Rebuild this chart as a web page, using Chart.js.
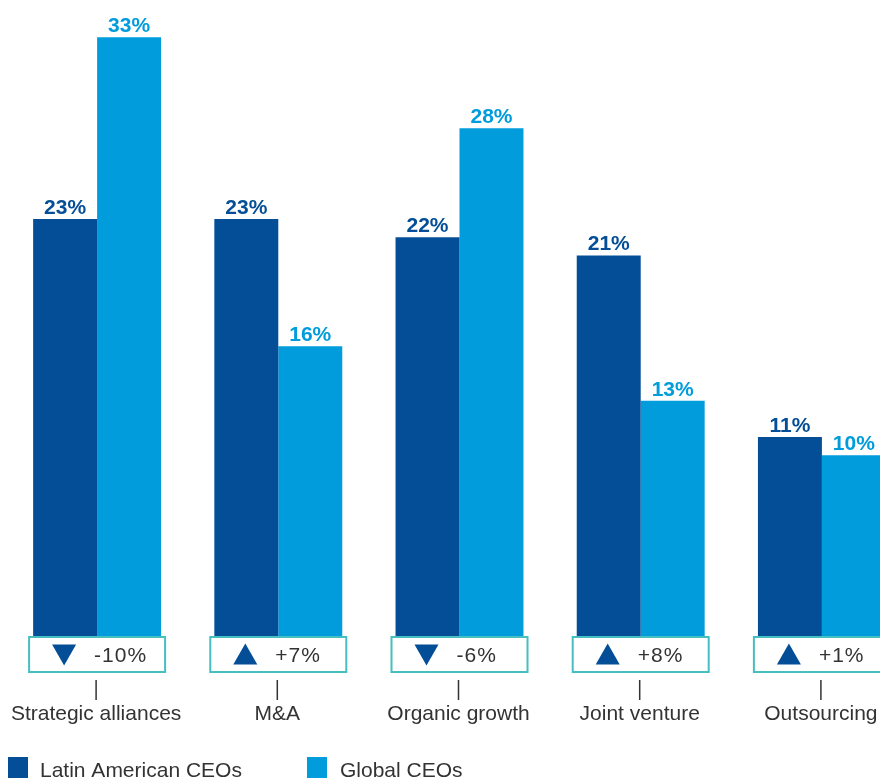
<!DOCTYPE html>
<html>
<head>
<meta charset="utf-8">
<script src="https://cdn.jsdelivr.net/npm/chart.js@4"></script>
<style>
html,body{margin:0;padding:0;background:#fff;overflow:hidden;width:880px;height:778px;}
#wrap{width:920px;height:778px;}
</style>
</head>
<body>
<div id="wrap"><canvas id="c" width="920" height="778"></canvas></div>
<script>
const categories = ["Strategic alliances", "M&A", "Organic growth", "Joint venture", "Outsourcing"];
const latamValues = [23, 23, 22, 21, 11];
const globalValues = [33, 16, 28, 13, 10];
const deltaLabels = ["-10%", "+7%", "-6%", "+8%", "+1%"];
const deltaDirections = ["down", "up", "down", "up", "up"];
const seriesNames = ["Latin American CEOs", "Global CEOs"];

const DARK = "#034e97";
const LIGHT = "#009cdc";
const TEAL = "#45bfbf";
const TEXT = "#333333";
const FONT = '"Liberation Sans", Arial, sans-serif';

const overlay = {
  id: "overlay",
  afterDatasetsDraw(chart) {
    const ctx = chart.ctx;
    const x = chart.scales.x;
    const area = chart.chartArea;
    ctx.save();
    // value labels
    chart.data.datasets.forEach((ds, di) => {
      const meta = chart.getDatasetMeta(di);
      meta.data.forEach((bar, i) => {
        ctx.font = "bold 21px " + FONT;
        ctx.fillStyle = di === 0 ? DARK : LIGHT;
        ctx.textAlign = "center";
        ctx.textBaseline = "alphabetic";
        ctx.fillText(ds.data[i] + "%", bar.x, bar.y - 5);
      });
    });
    categories.forEach((cat, i) => {
      const cx = x.getPixelForValue(i);
      const top = area.bottom;
      // box
      ctx.fillStyle = "#fff";
      ctx.fillRect(cx - 68, top, 136, 35);
      ctx.strokeStyle = TEAL;
      ctx.lineWidth = 2;
      ctx.strokeRect(cx - 68, top, 136, 35);
      // triangle
      const tx = cx - 33;
      const ty = top + 17.5;
      ctx.fillStyle = DARK;
      ctx.beginPath();
      if (deltaDirections[i] === "down") {
        ctx.moveTo(tx - 12, ty - 10);
        ctx.lineTo(tx + 12, ty - 10);
        ctx.lineTo(tx, ty + 11);
      } else {
        ctx.moveTo(tx - 12, ty + 10);
        ctx.lineTo(tx + 12, ty + 10);
        ctx.lineTo(tx, ty - 11);
      }
      ctx.closePath();
      ctx.fill();
      // delta text
      ctx.font = "21px " + FONT;
      ctx.letterSpacing = "1px";
      ctx.fillStyle = TEXT;
      ctx.textAlign = "left";
      ctx.textBaseline = "alphabetic";
      ctx.fillText(deltaLabels[i], cx - 3, top + 25);
      ctx.letterSpacing = "0px";
      // tick
      ctx.strokeStyle = TEXT;
      ctx.lineWidth = 1.5;
      ctx.beginPath();
      ctx.moveTo(cx - 1, top + 43);
      ctx.lineTo(cx - 1, top + 63);
      ctx.stroke();
      // category label
      ctx.font = "21px " + FONT;
      ctx.fillStyle = TEXT;
      ctx.textAlign = "center";
      ctx.fillText(cat, cx - 1, top + 83);
    });
    // legend
    const ly = 757;
    ctx.fillStyle = DARK;
    ctx.fillRect(8, ly, 20, 21);
    ctx.fillStyle = LIGHT;
    ctx.fillRect(307, ly, 20, 21);
    ctx.font = "21px " + FONT;
    ctx.fillStyle = TEXT;
    ctx.textAlign = "left";
    ctx.fillText(seriesNames[0], 40, 777);
    ctx.fillText(seriesNames[1], 340, 777);
    ctx.restore();
  }
};

new Chart(document.getElementById("c"), {
  type: "bar",
  data: {
    labels: categories,
    datasets: [
      { label: seriesNames[0], data: latamValues, backgroundColor: DARK, borderWidth: 0 },
      { label: seriesNames[1], data: globalValues, backgroundColor: LIGHT, borderWidth: 0 }
    ]
  },
  options: {
    responsive: false,
    animation: false,
    devicePixelRatio: 1,
    layout: { padding: { left: 6.5, right: 7.5, top: 1, bottom: 141 } },
    datasets: { bar: { categoryPercentage: 0.706, barPercentage: 1 } },
    plugins: { legend: { display: false }, tooltip: { enabled: false } },
    scales: {
      x: { display: false },
      y: { display: false, min: 0, max: 35 }
    }
  },
  plugins: [overlay]
});
</script>
</body>
</html>
